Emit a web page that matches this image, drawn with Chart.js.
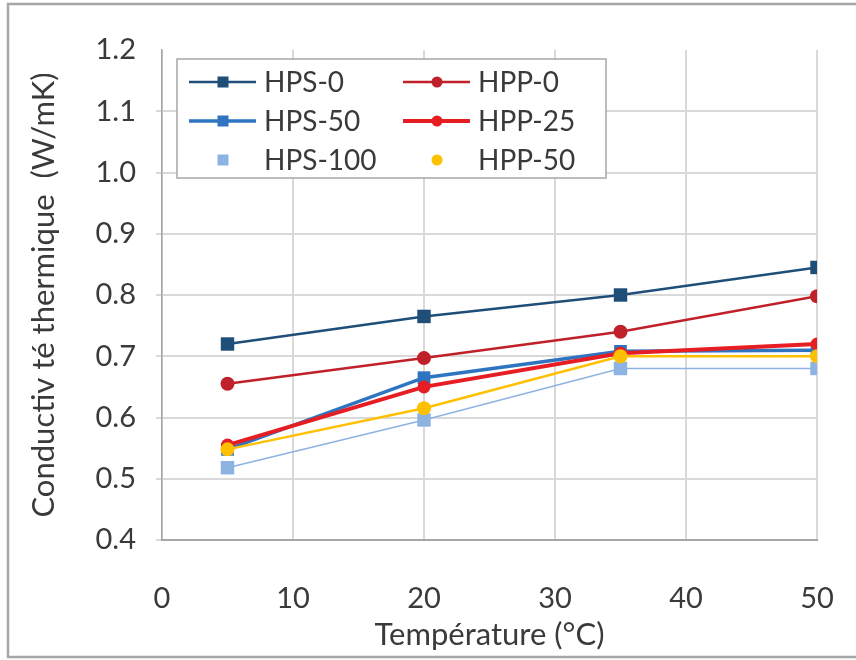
<!DOCTYPE html>
<html>
<head>
<meta charset="utf-8">
<script src="https://cdn.jsdelivr.net/npm/chart.js@4/dist/chart.umd.min.js"></script>
<style>
  html, body { margin: 0; padding: 0; background: #ffffff; }
  #wrap { width: 856px; height: 660px; }
</style>
</head>
<body>
<div id="wrap"><canvas id="condChart" width="856" height="660"></canvas></div>
<script>
// Temperatures (°C) and conductivity values (W/mK)
const temperatures = [5, 20, 35, 50];
const hps0   = [0.720, 0.765, 0.800, 0.845];
const hpp0   = [0.655, 0.697, 0.740, 0.798];
const hps50  = [0.548, 0.665, 0.708, 0.710];
const hpp25  = [0.555, 0.650, 0.705, 0.720];
const hps100 = [0.518, 0.596, 0.680, 0.680];
const hpp50  = [0.548, 0.615, 0.700, 0.700];

const yMin = 0.4, yMax = 1.2, yStep = 0.1;
const xMin = 0, xMax = 50, xStep = 10;

const FONT = 'Lato, "Open Sans", sans-serif';
const TEXT = '#3a3a3a';

function points(values) {
    return values.map((v, i) => ({ x: temperatures[i], y: v }));
}

// Series in the order Excel lays out its legend (row by row)
const series = [
    { label: 'HPS-0',   data: hps0,   color: '#1f4e79', width: 2.5, style: 'rect',   radius: 9.5, legendLine: true },
    { label: 'HPP-0',   data: hpp0,   color: '#c0202a', width: 2.5, style: 'circle', radius: 7,   legendLine: true },
    { label: 'HPS-50',  data: hps50,  color: '#2e74c0', width: 3.5, style: 'rect',   radius: 9,   legendLine: true },
    { label: 'HPP-25',  data: hpp25,  color: '#e61e24', width: 4,   style: 'circle', radius: 6.5, legendLine: true },
    { label: 'HPS-100', data: hps100, color: '#8db3e2', width: 1.5, style: 'rect',   radius: 9.5, legendLine: false },
    { label: 'HPP-50',  data: hpp50,  color: '#ffc000', width: 2.5, style: 'circle', radius: 7,   legendLine: false }
];

// Outer frame around the whole figure
const framePlugin = {
    id: 'frame',
    beforeDraw(chart) {
        const ctx = chart.ctx;
        ctx.save();
        ctx.strokeStyle = '#a6a6a6';
        ctx.lineWidth = 2.5;
        ctx.strokeRect(8, 4, 900, 653);
        ctx.restore();
    }
};

function drawMarker(ctx, style, x, y, size, color) {
    ctx.fillStyle = color;
    if (style === 'rect') {
        ctx.fillRect(x - size / 2, y - size / 2, size, size);
    } else {
        ctx.beginPath();
        ctx.arc(x, y, size / 2, 0, Math.PI * 2);
        ctx.fill();
    }
}

// Legend box inside the plot, two columns, like the Excel original
const insideLegend = {
    id: 'insideLegend',
    afterDatasetsDraw(chart) {
        const ctx = chart.ctx;
        const box = { x: 177, y: 59, w: 429, h: 119 };
        const cols = [189, 403];
        const rows = [82, 121, 160];
        ctx.save();
        ctx.fillStyle = '#ffffff';
        ctx.fillRect(box.x, box.y, box.w, box.h);
        ctx.strokeStyle = '#a6a6a6';
        ctx.lineWidth = 1.5;
        ctx.strokeRect(box.x, box.y, box.w, box.h);
        chart.data.datasets.forEach((ds, i) => {
            const x0 = cols[i % 2];
            const y0 = rows[Math.floor(i / 2)];
            if (ds.legendLine) {
                ctx.strokeStyle = ds.borderColor;
                ctx.lineWidth = ds.borderWidth;
                ctx.beginPath();
                ctx.moveTo(x0, y0);
                ctx.lineTo(x0 + 67, y0);
                ctx.stroke();
            }
            drawMarker(ctx, ds.pointStyle, x0 + 34, y0, 11, ds.backgroundColor);
            ctx.fillStyle = TEXT;
            ctx.font = '28px ' + FONT;
            ctx.textBaseline = 'middle';
            ctx.textAlign = 'left';
            ctx.fillText(ds.label, x0 + 75, y0 + 1);
        });
        ctx.restore();
    }
};

const ctx = document.getElementById('condChart').getContext('2d');

new Chart(ctx, {
    type: 'line',
    data: {
        datasets: series.map((s, i) => ({
            label: s.label,
            data: points(s.data),
            borderColor: s.color,
            backgroundColor: s.color,
            borderWidth: s.width,
            pointStyle: s.style,
            pointRadius: s.radius,
            pointBorderWidth: 0,
            pointHoverRadius: s.radius,
            tension: 0,
            legendLine: s.legendLine,
            order: series.length - i
        }))
    },
    options: {
        responsive: false,
        animation: false,
        layout: { padding: { top: 50, right: 39, bottom: 0, left: 0 } },
        plugins: {
            legend: { display: false },
            tooltip: { enabled: false }
        },
        scales: {
            x: {
                type: 'linear',
                min: xMin,
                max: xMax,
                afterFit(scale) {
                    scale.height = 120;
                    scale.paddingLeft = 0;
                    scale.paddingRight = 0;
                },
                ticks: {
                    stepSize: xStep,
                    color: TEXT,
                    padding: 41,
                    font: { family: FONT, size: 29 }
                },
                grid: {
                    color: '#d9d9d9',
                    lineWidth: 2,
                    drawTicks: false
                },
                border: { color: '#a6a6a6', width: 2 },
                title: {
                    display: true,
                    text: 'Température (°C)',
                    color: TEXT,
                    font: { family: FONT, size: 31 },
                    padding: { top: 0, bottom: 6 }
                }
            },
            y: {
                min: yMin,
                max: yMax,
                afterFit(scale) { scale.width = 162; },
                ticks: {
                    stepSize: yStep,
                    color: TEXT,
                    padding: 20,
                    font: { family: FONT, size: 29 },
                    callback: (v) => Number(v).toFixed(1)
                },
                grid: {
                    color: (c) => (c.tick && Math.abs(c.tick.value - yMax) < 1e-6) ? 'rgba(0,0,0,0)' : '#d9d9d9',
                    lineWidth: 2,
                    tickLength: 6
                },
                border: { color: '#a6a6a6', width: 1.5 },
                title: {
                    display: true,
                    text: 'Conductiv té thermique  (W/mK)',
                    color: TEXT,
                    font: { family: FONT, size: 31 },
                    padding: { top: 25, bottom: 0 }
                }
            }
        }
    },
    plugins: [framePlugin, insideLegend]
});
</script>
</body>
</html>
